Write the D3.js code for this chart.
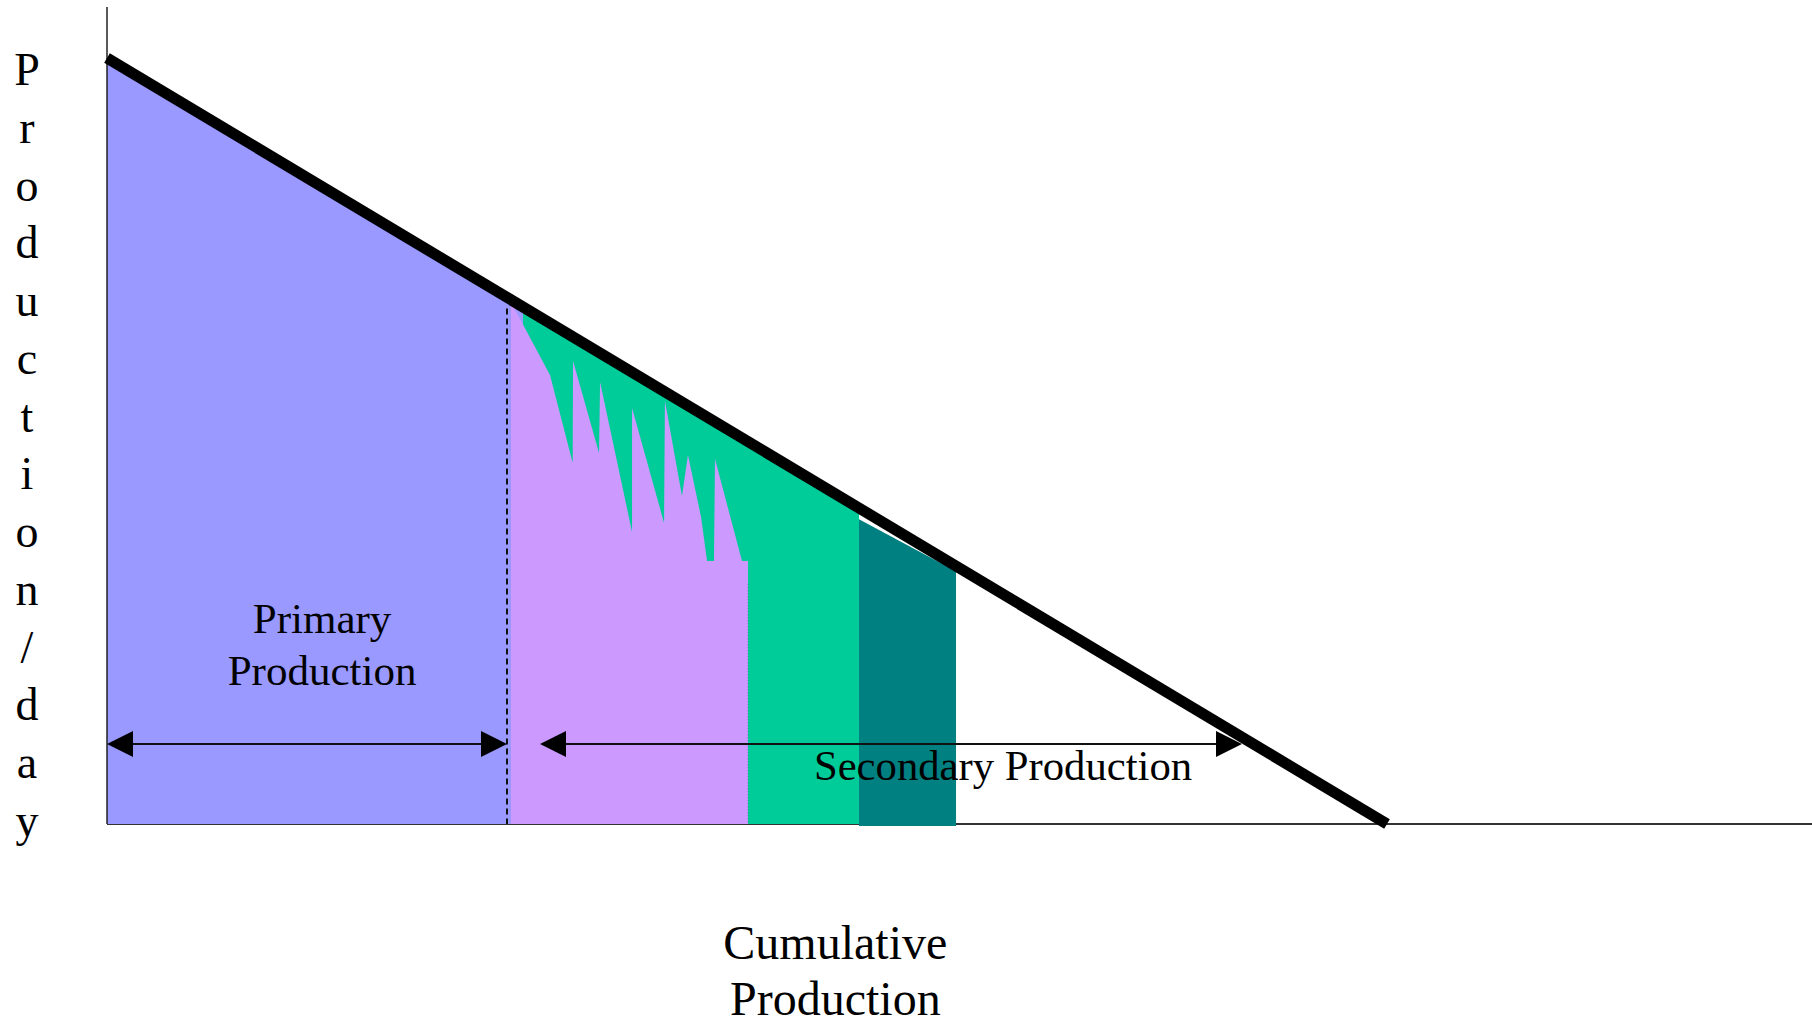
<!DOCTYPE html>
<html>
<head>
<meta charset="utf-8">
<script src="https://cdn.jsdelivr.net/npm/d3@7"></script>
<style>
  body { margin: 0; background: #fff; }
  svg { display: block; }
  text { font-family: "Liberation Serif", "Times New Roman", serif; fill: #000; }
</style>
</head>
<body>
<svg id="chart" width="1812" height="1021"></svg>
<script>
// decline line: rate vs cumulative production (both 0..100)
var declineLine = [[0, 100], [100, 0]];

// primary recovery ends here
var primaryEnd = 31.25;

// region boundaries on the cumulative axis
var blueRange = [0, 32.5];
var greenRange = [32.5, 58.75];
var tealTop = [[58.75, 39.8], [66.33, 33.0]];

// jagged top of the purple (secondary) area
var purpleEdge = [
  [31.56, 0], [31.56, 68.15], [34.61, 58.62], [36.38, 47.17], [36.41, 60.44],
  [38.44, 48.43], [38.52, 57.70], [41.02, 38.12], [41.02, 54.31], [43.52, 39.30],
  [43.59, 55.22], [44.92, 42.82], [45.39, 48.17], [46.41, 40.08], [46.88, 34.33],
  [47.42, 34.33], [47.50, 47.65], [49.61, 34.33], [50.08, 34.33], [50.08, 0]
];

// arrows (from, to, height)
var primaryArrow = [0, 31.25, 10.44];
var secondaryArrow = [33.83, 88.67, 10.44];

var yLabel = "Production/day".split("");

var svg = d3.select("#chart");

var x = d3.scaleLinear().domain([0, 100]).range([107, 1387]);
var y = d3.scaleLinear().domain([0, 100]).range([824, 58]);

function lineAt(v) { return 100 - v; }

var area = d3.area()
    .x(function(d) { return x(d[0]); })
    .y0(y(0))
    .y1(function(d) { return y(d[1]); });

// x axis (drawn first, teal sits over it)
svg.append("line")
    .attr("x1", x(0)).attr("x2", 1812)
    .attr("y1", y(0)).attr("y2", y(0))
    .attr("stroke", "#333").attr("stroke-width", 2);

// blue primary area
svg.append("path")
    .datum(blueRange.map(function(v) { return [v, lineAt(v)]; }))
    .attr("d", area)
    .attr("fill", "#9999ff");

// green area under line
svg.append("path")
    .datum(greenRange.map(function(v) { return [v, lineAt(v)]; }))
    .attr("d", area)
    .attr("fill", "#00cc99");

// purple jagged area
svg.append("path")
    .datum(purpleEdge)
    .attr("d", d3.line().x(function(d) { return x(d[0]); }).y(function(d) { return y(d[1]); }))
    .attr("fill", "#cc99ff");

// faint dotted edge between purple and green
svg.append("line")
    .attr("x1", x(50.08)).attr("x2", x(50.08))
    .attr("y1", y(31.3)).attr("y2", y(0))
    .attr("stroke", "#557").attr("stroke-width", 1)
    .attr("stroke-dasharray", "1,2").attr("opacity", 0.6);

// teal area
svg.append("path")
    .datum(tealTop)
    .attr("d", d3.area()
      .x(function(d) { return x(d[0]); })
      .y0(y(0) + 2)
      .y1(function(d) { return y(d[1]); }))
    .attr("fill", "#008080");

// y axis
svg.append("line")
    .attr("x1", x(0)).attr("x2", x(0))
    .attr("y1", 7).attr("y2", y(0))
    .attr("stroke", "#222").attr("stroke-width", 1.5);

// dashed primary limit
svg.append("line")
    .attr("x1", x(primaryEnd)).attr("x2", x(primaryEnd))
    .attr("y1", y(67.3)).attr("y2", y(0))
    .attr("stroke", "#111").attr("stroke-width", 2)
    .attr("stroke-dasharray", "6,4");

// thick decline line
svg.append("path")
    .datum(declineLine)
    .attr("d", d3.line().x(function(d) { return x(d[0]); }).y(function(d) { return y(d[1]); }))
    .attr("fill", "none")
    .attr("stroke", "#000")
    .attr("stroke-width", 11);

// double-headed arrows
function arrow(a) {
  var x0 = x(a[0]), x1 = x(a[1]), yy = y(a[2]);
  var hl = 26, hw = 13;
  svg.append("line")
      .attr("x1", x0 + hl - 2).attr("x2", x1 - hl + 2)
      .attr("y1", yy).attr("y2", yy)
      .attr("stroke", "#111").attr("stroke-width", 2);
  svg.append("path")
      .attr("d", "M" + x0 + "," + yy + "L" + (x0 + hl) + "," + (yy - hw) + "L" + (x0 + hl) + "," + (yy + hw) + "Z")
      .attr("fill", "#000");
  svg.append("path")
      .attr("d", "M" + x1 + "," + yy + "L" + (x1 - hl) + "," + (yy - hw) + "L" + (x1 - hl) + "," + (yy + hw) + "Z")
      .attr("fill", "#000");
}
arrow(primaryArrow);
arrow(secondaryArrow);

// labels
svg.append("text")
    .attr("x", x(16.8)).attr("y", 633)
    .attr("text-anchor", "middle").attr("font-size", 43)
    .text("Primary");
svg.append("text")
    .attr("x", x(16.8)).attr("y", 685)
    .attr("text-anchor", "middle").attr("font-size", 43)
    .text("Production");

svg.append("text")
    .attr("x", x(70.0)).attr("y", 780)
    .attr("text-anchor", "middle").attr("font-size", 42.7)
    .text("Secondary Production");

svg.append("text")
    .attr("x", x(56.9)).attr("y", 959)
    .attr("text-anchor", "middle").attr("font-size", 48)
    .text("Cumulative");
svg.append("text")
    .attr("x", x(56.9)).attr("y", 1015)
    .attr("text-anchor", "middle").attr("font-size", 48)
    .text("Production");

// stacked y label
svg.selectAll("text.ylab")
    .data(yLabel)
  .enter().append("text")
    .attr("class", "ylab")
    .attr("x", 27)
    .attr("y", function(d, i) { return 85 + i * 57.75; })
    .attr("text-anchor", "middle")
    .attr("font-size", 46)
    .text(function(d) { return d; });
</script>
</body>
</html>
